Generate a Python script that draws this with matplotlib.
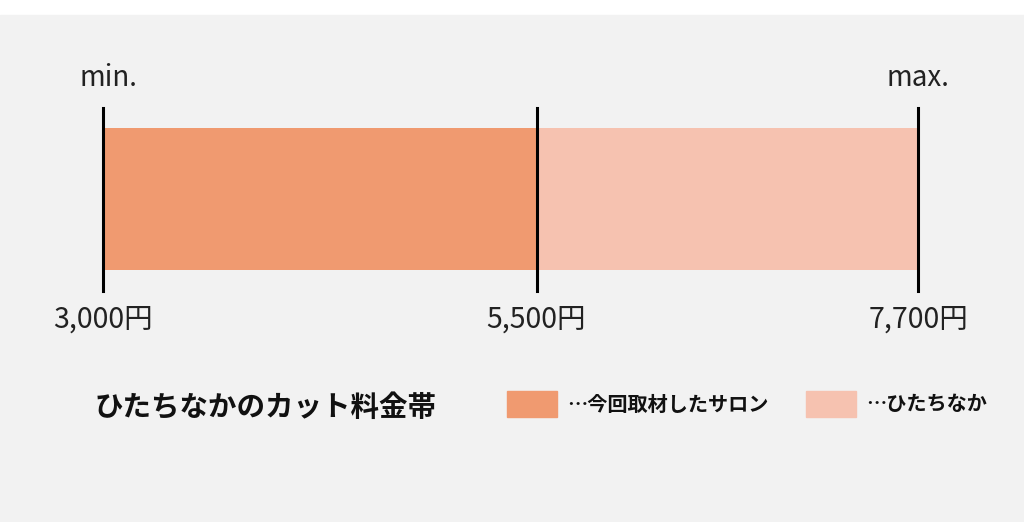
import matplotlib
matplotlib.use("Agg")
import matplotlib.pyplot as plt
from matplotlib.patches import Rectangle

# ── Data ──────────────────────────────────────────────────────────────────────
range_min = 3000
salon_max = 5500
area_max = 7700
tick_values = [range_min, salon_max, area_max]
tick_labels = ["3,000円", "5,500円", "7,700円"]
legend_labels = ["…今回取材したサロン", "…ひたちなか"]
title = "ひたちなかのカット料金帯"

dark = "#f09a70"
light = "#f6c2b0"
bg = "#f2f2f2"

plt.rcParams["font.family"] = "Noto Sans CJK JP"

fig = plt.figure(figsize=(10.24, 5.22), dpi=100)
fig.patch.set_facecolor("white")
ax = fig.add_axes([0, 0, 1, 1])
# x in yen (pixel 103 -> 3000, pixel 918 -> 7700), y in pixel rows
scale = (918 - 103) / (area_max - range_min)
ax.set_xlim(range_min - 103 / scale, range_min + (1024 - 103) / scale)
ax.set_ylim(522, 0)
ax.axis("off")
px = lambda p: range_min + (p - 103) / scale

ax.add_patch(Rectangle((px(0), 15), 1024 / scale, 507, color=bg, zorder=0))

# bars
ax.barh(199, salon_max - range_min, left=range_min, height=142, color=dark, zorder=1)
ax.barh(199, area_max - salon_max, left=salon_max, height=142, color=light, zorder=1)

for v, lab in zip(tick_values, tick_labels):
    ax.plot([v, v], [108, 291], color="black", lw=2.2, zorder=2)
    ax.text(v, 320, lab, ha="center", va="center", fontsize=20.5, color="#222222")

ax.text(range_min + 5 / scale, 78, "min.", ha="center", va="center", fontsize=20, color="#222222")
ax.text(area_max, 78, "max.", ha="center", va="center", fontsize=20, color="#222222")

ax.text(px(95), 408, title, ha="left", va="center", fontsize=20.5, fontweight="bold", color="#111111")

for x0, c, lab in [(507, dark, legend_labels[0]), (806, light, legend_labels[1])]:
    ax.add_patch(Rectangle((px(x0), 391), 50 / scale, 26, color=c, zorder=1))
    ax.text(px(x0 + 60), 404, lab, ha="left", va="center", fontsize=14.5,
            fontweight="bold", color="#111111")

fig.savefig("out.png", dpi=100, facecolor=fig.get_facecolor())
